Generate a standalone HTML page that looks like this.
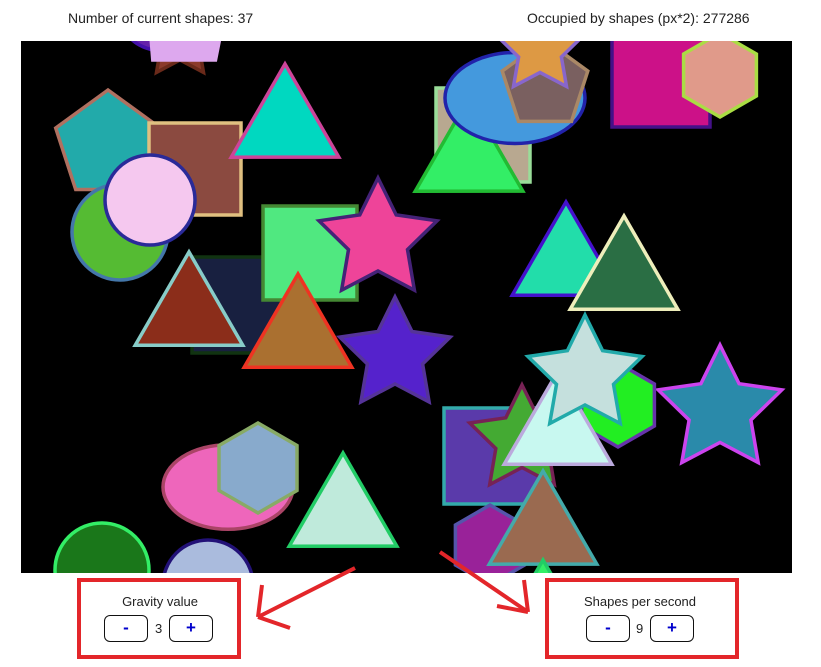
<!DOCTYPE html>
<html><head><meta charset="utf-8"><style>
body{margin:0;width:821px;height:667px;background:#fff;font-family:"Liberation Sans",sans-serif;overflow:hidden;position:relative}
.t{position:absolute;font-size:14px;color:#222}
.lbl{position:absolute;font-size:13px;color:#222;text-align:center;width:200px}
.btn{position:absolute;width:44px;height:27px;border:1.5px solid #111;border-radius:6px;box-sizing:border-box;background:#fff;color:#0000cc;font-weight:bold;font-size:17px;text-align:center;line-height:24px}
.val{position:absolute;font-size:13px;color:#222}
</style></head><body>
<div class="t" style="left:68px;top:10px">Number of current shapes: 37</div>
<div class="t" style="left:527px;top:10px">Occupied by shapes (px*2): 277286</div>
<svg id="cv" width="821" height="667" style="position:absolute;left:0;top:0">
<defs><clipPath id="c"><rect x="21" y="41" width="771" height="532"/></clipPath></defs>
<rect x="21" y="41" width="771" height="532" fill="#000"/>
<g id="g" clip-path="url(#c)"></g>
<g stroke="#e3262a" stroke-width="4" fill="none">
<rect x="79" y="580" width="160" height="77"/>
<rect x="547" y="580" width="190" height="77"/>
<path d="M355 568 L258 617 M258 617 L290 628 M258 617 L262 585"/>
<path d="M440 552 L528 612 M528 612 L524 580 M528 612 L497 606"/>
</g>
</svg>
<div class="lbl" style="left:60px;top:594px">Gravity value</div>
<div class="btn" style="left:104px;top:615px">-</div>
<div class="val" style="left:155px;top:621px">3</div>
<div class="btn" style="left:169px;top:615px">+</div>
<div class="lbl" style="left:540px;top:594px">Shapes per second</div>
<div class="btn" style="left:586px;top:615px">-</div>
<div class="val" style="left:636px;top:621px">9</div>
<div class="btn" style="left:650px;top:615px">+</div>
<script>
const shapeTypes=["star","ellipse","trap","pent","sq","circ","circ","tri","sq","tri","sq","tri","star","star","sq","tri","ellipse","pent","star","sq","hex","tri","tri","star","sq","star","hex","tri","star","hex","tri","tri","ellipse","hex","tri","circ","circ"];
const shapeX=[180,165,187,108,195,120,150,285,240,189,310,298,378,395,483,469,515,545,540,661,720,566,624,720,492,522,618,558,585,490,543,543,228,258,343,102,208];
const shapeY=[40,25,50,145,169,232,200,118,305,306,253,328,240,355,135,152,98,85,50,78,75,256,270,410,456,440,405,425,375,545,525,600,487,468,507,570,585];
const shapeR=[40,40,38,55,46,48,45,54,48,54,47,54,62,58,47,54,70,45,45,49,42,54,54,65,48,55,42,54,60,40,54,40,65,45,54,47,45];
const shapeFill=["#8b3a2a","#6622aa","#dda8ee","#22aaaa","#8b4a40","#55bb33","#f5c8ef","#00d8c0","#182040","#8b2d1a","#50e880","#aa7030","#ee4499","#5522cc","#b8a890","#33ee66","#4499dd","#7a6060","#dd9944","#cc1188","#e09a8a","#22ddaa","#2a6e44","#2a8aaa","#5a3aaa","#44aa33","#22ee22","#c8f8f0","#c5e0dd","#992299","#9a6a50","#33ee66","#ee66bb","#88aacc","#bfeadb","#1a771a","#aabbdd"];
const shapeStroke=["#6a2a1a","#4411aa","#dda8ee","#b07060","#e0c080","#4477aa","#2a2a99","#cc4499","#113311","#88ccc8","#448833","#ee3322","#442277","#553399","#99dd99","#22bb33","#2222aa","#aa8866","#8866cc","#441188","#aadd44","#4411cc","#eeeebb","#cc44ee","#33aaaa","#772255","#6633aa","#bbaadd","#22aaaa","#5555aa","#44aaaa","#22cc66","#aa4466","#88aa66","#22cc66","#33ee66","#221177"];
const g=document.getElementById('g');const NS="http://www.w3.org/2000/svg";
function poly(cx,cy,r,n,rot){let p=[];for(let i=0;i<n;i++){const a=rot+i*2*Math.PI/n;p.push((cx+r*Math.cos(a)).toFixed(1)+","+(cy+r*Math.sin(a)).toFixed(1));}return p.join(" ");}
function star(cx,cy,r){let p=[];for(let i=0;i<10;i++){const rr=i%2?r*0.5:r;const a=-Math.PI/2+i*Math.PI/5;p.push((cx+rr*Math.cos(a)).toFixed(1)+","+(cy+rr*Math.sin(a)).toFixed(1));}return p.join(" ");}
shapeTypes.forEach((t,i)=>{const x=shapeX[i],y=shapeY[i],r=shapeR[i];let el;
if(t==="circ"){el=document.createElementNS(NS,"circle");el.setAttribute("cx",x);el.setAttribute("cy",y);el.setAttribute("r",r);}
else if(t==="ellipse"){el=document.createElementNS(NS,"ellipse");el.setAttribute("cx",x);el.setAttribute("cy",y);el.setAttribute("rx",r);el.setAttribute("ry",r*0.65);}
else if(t==="sq"){el=document.createElementNS(NS,"rect");el.setAttribute("x",x-r);el.setAttribute("y",y-r);el.setAttribute("width",2*r);el.setAttribute("height",2*r);}
else{el=document.createElementNS(NS,"polygon");let pts;
if(t==="star")pts=star(x,y,r);else if(t==="trap")pts=(x-r)+","+(y-r)+" "+(x+r)+","+(y-r)+" "+(x+r*0.75)+","+(y+10)+" "+(x-r*0.9)+","+(y+10);else if(t==="tri")pts=poly(x,y+r*0.15,r*1.15,3,-Math.PI/2);else if(t==="pent")pts=poly(x,y,r,5,-Math.PI/2);else pts=poly(x,y,r,6,-Math.PI/2);
el.setAttribute("points",pts);}
el.setAttribute("fill",shapeFill[i]);el.setAttribute("stroke",shapeStroke[i]);el.setAttribute("stroke-width","3.5");


g.appendChild(el);});
</script>
</body></html>
